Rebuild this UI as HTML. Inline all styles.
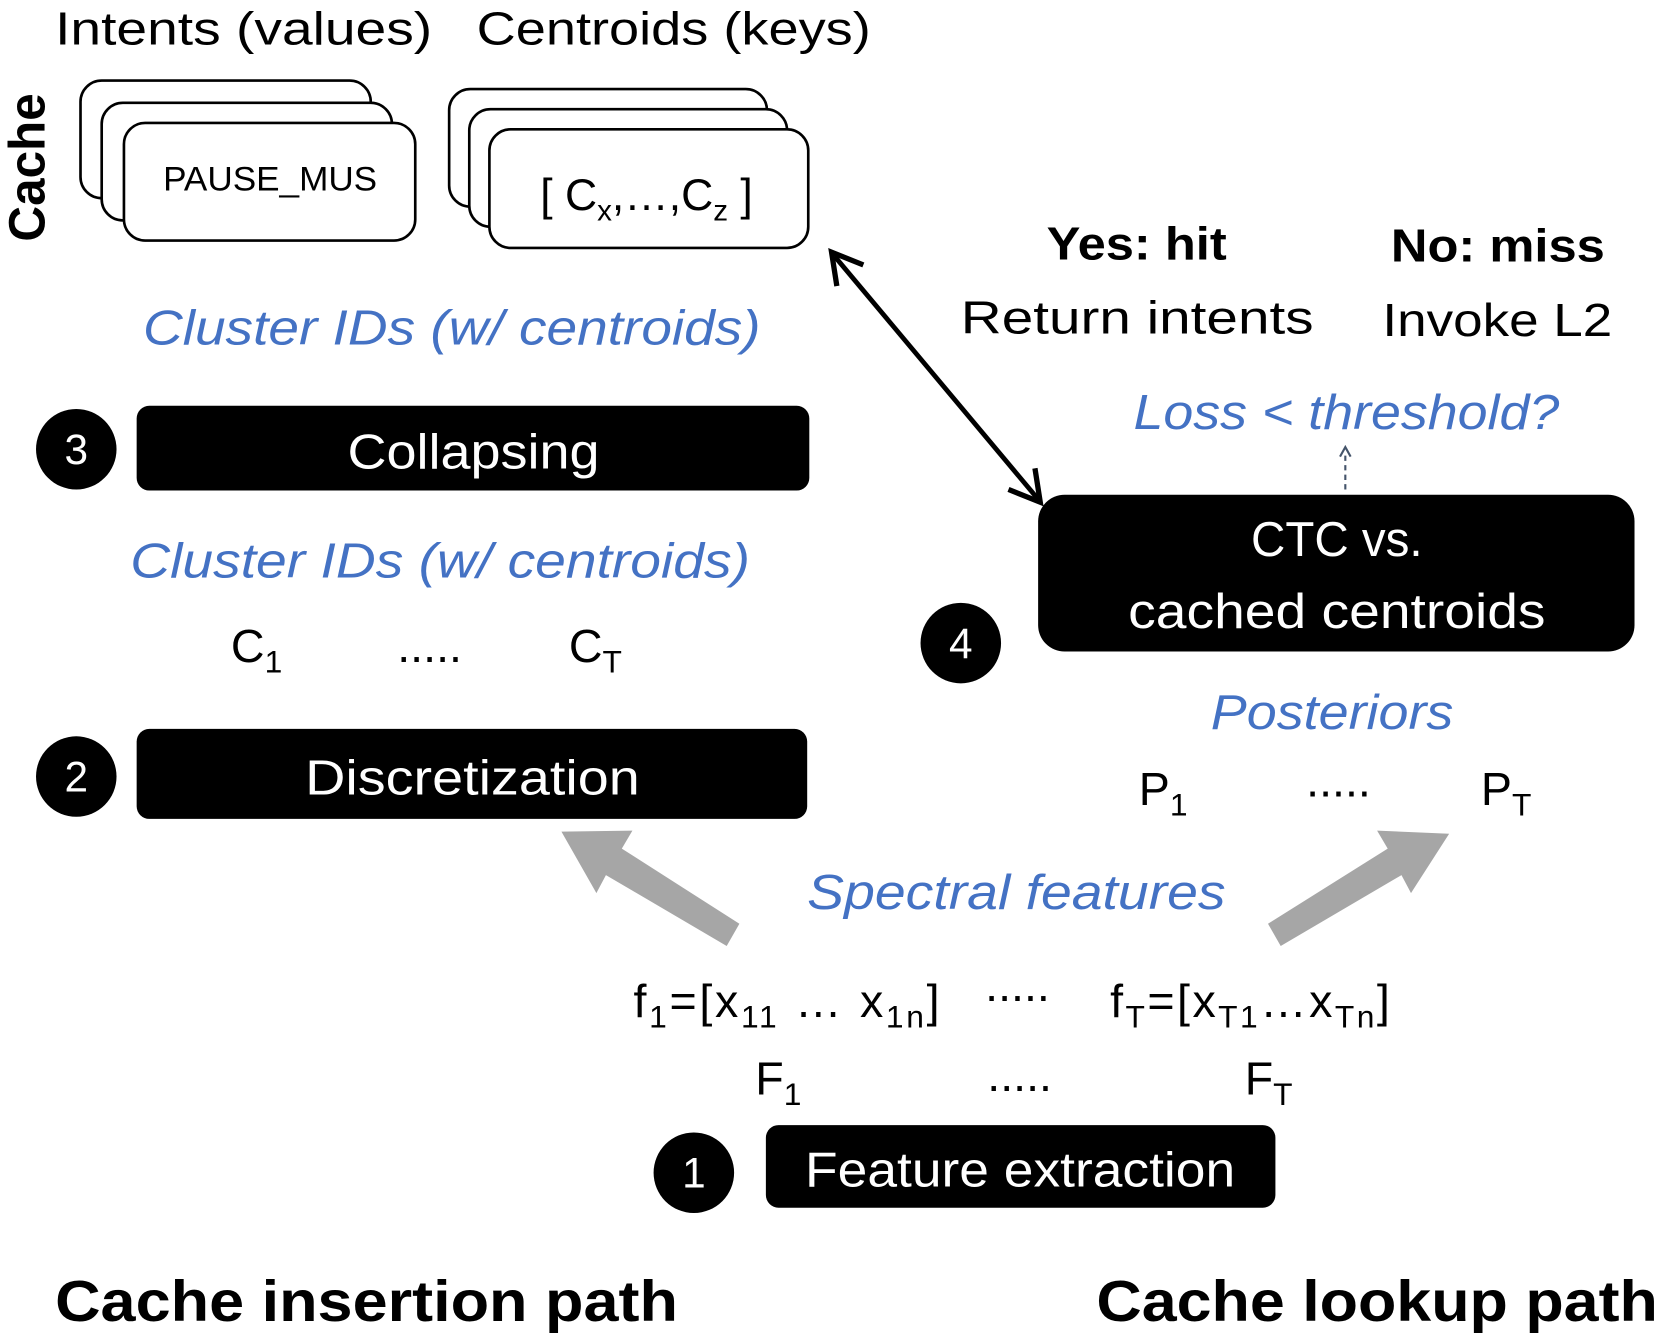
<!DOCTYPE html>
<html><head><meta charset="utf-8"><style>html,body{margin:0;padding:0;background:#fff}svg{display:block}text{font-family:"Liberation Sans",sans-serif}</style></head>
<body>
<svg width="1661" height="1337" viewBox="0 0 1568 1262" xmlns="http://www.w3.org/2000/svg">
<g font-size="44" fill="#000">
<text x="52" y="42" textLength="356" lengthAdjust="spacingAndGlyphs">Intents (values)</text>
<text x="450" y="42" textLength="372" lengthAdjust="spacingAndGlyphs">Centroids (keys)</text>
</g>
<text transform="translate(42,228) rotate(-90)" font-size="48" font-weight="bold" textLength="140" lengthAdjust="spacingAndGlyphs">Cache</text>
<g fill="#fff" stroke="#000" stroke-width="2.5">
<rect x="76" y="76" width="274" height="111" rx="20"/>
<rect x="96" y="97" width="274" height="111" rx="20"/>
<rect x="117" y="116" width="275" height="111" rx="20"/>
<rect x="424" y="84" width="300" height="111" rx="20"/>
<rect x="443" y="103" width="300" height="111" rx="20"/>
<rect x="462" y="122" width="301" height="112" rx="20"/>
</g>
<text x="255" y="180" font-size="32" text-anchor="middle" textLength="202" lengthAdjust="spacingAndGlyphs">PAUSE_MUS</text>
<text x="510" y="198" font-size="42">[ C<tspan font-size="28" dy="10">x</tspan><tspan dy="-10">,…,C</tspan><tspan font-size="28" dy="10">z</tspan><tspan dy="-10"> ]</tspan></text>

<g fill="#4472C4" font-style="italic" font-size="46">
<text x="135" y="325" textLength="583" lengthAdjust="spacingAndGlyphs">Cluster IDs (w/ centroids)</text>
<text x="123" y="545" textLength="585" lengthAdjust="spacingAndGlyphs">Cluster IDs (w/ centroids)</text>
<text x="1070" y="405" textLength="402" lengthAdjust="spacingAndGlyphs">Loss &lt; threshold?</text>
<text x="1143" y="688" textLength="229" lengthAdjust="spacingAndGlyphs">Posteriors</text>
<text x="762" y="858" textLength="395" lengthAdjust="spacingAndGlyphs">Spectral features</text>
</g>

<g fill="#000">
<circle cx="72" cy="424" r="38"/><circle cx="72" cy="733" r="38"/><circle cx="655" cy="1107" r="38"/><circle cx="907" cy="607" r="38"/>
<rect x="129" y="383" width="635" height="80" rx="12"/>
<rect x="129" y="688" width="633" height="85" rx="12"/>
<rect x="723" y="1062" width="481" height="78" rx="12"/>
<rect x="980" y="467" width="563" height="148" rx="25"/>
</g>
<g fill="#fff" font-size="40" text-anchor="middle">
<text x="72" y="438">3</text><text x="72" y="747">2</text><text x="655" y="1121">1</text><text x="907" y="621">4</text>
</g>
<g fill="#fff" font-size="46" text-anchor="middle">
<text x="447" y="442" textLength="238" lengthAdjust="spacingAndGlyphs">Collapsing</text>
<text x="446" y="750" textLength="316" lengthAdjust="spacingAndGlyphs">Discretization</text>
<text x="963" y="1120" textLength="406" lengthAdjust="spacingAndGlyphs">Feature extraction</text>
<text x="1262" y="525" textLength="162" lengthAdjust="spacingAndGlyphs">CTC vs.</text>
<text x="1262" y="593" textLength="394" lengthAdjust="spacingAndGlyphs">cached centroids</text>
</g>

<g font-size="44" fill="#000">
<text x="218" y="625">C<tspan font-size="30" dy="10">1</tspan></text>
<text x="375" y="625">.....</text>
<text x="537" y="625">C<tspan font-size="30" dy="10">T</tspan></text>
<text x="1075" y="760">P<tspan font-size="30" dy="10">1</tspan></text>
<text x="1233" y="752">.....</text>
<text x="1398" y="760">P<tspan font-size="30" dy="10">T</tspan></text>
<text x="598" y="960" textLength="289" lengthAdjust="spacing">f<tspan font-size="30" dy="10">1</tspan><tspan dy="-10">=[x</tspan><tspan font-size="30" dy="10">11</tspan><tspan dy="-10"> … x</tspan><tspan font-size="30" dy="10">1n</tspan><tspan dy="-10">]</tspan></text>
<text x="930" y="945">.....</text>
<text x="1048" y="960" textLength="264" lengthAdjust="spacing">f<tspan font-size="30" dy="10">T</tspan><tspan dy="-10">=[x</tspan><tspan font-size="30" dy="10">T1</tspan><tspan dy="-10">…x</tspan><tspan font-size="30" dy="10">Tn</tspan><tspan dy="-10">]</tspan></text>
<text x="713" y="1033">F<tspan font-size="30" dy="10">1</tspan></text>
<text x="932" y="1030">.....</text>
<text x="1175" y="1033">F<tspan font-size="30" dy="10">T</tspan></text>
<text x="1073" y="245" font-weight="bold" text-anchor="middle" textLength="170" lengthAdjust="spacingAndGlyphs">Yes: hit</text>
<text x="907" y="315" textLength="333" lengthAdjust="spacingAndGlyphs">Return intents</text>
<text x="1414" y="247" font-weight="bold" text-anchor="middle" textLength="202" lengthAdjust="spacingAndGlyphs">No: miss</text>
<text x="1305" y="317" textLength="217" lengthAdjust="spacingAndGlyphs">Invoke L2</text>
</g>
<g font-size="54" font-weight="bold">
<text x="52" y="1247" textLength="588" lengthAdjust="spacingAndGlyphs">Cache insertion path</text>
<text x="1035" y="1247" textLength="530" lengthAdjust="spacingAndGlyphs">Cache lookup path</text>
</g>

<g fill="#A6A6A6">
<polygon points="698,872 686,893 572,826 563,843 530,785 597,784 587,801"/>
<polygon points="1197,872 1209,893 1323,826 1332,843 1368,787 1300,784 1310,801"/>
</g>
<line x1="788" y1="242" x2="979" y2="470" stroke="#000" stroke-width="4.5"/>
<polyline points="790,270 785,238 815,250" fill="none" stroke="#000" stroke-width="5"/>
<polyline points="977,442 982,474 952,462" fill="none" stroke="#000" stroke-width="5"/>
<line x1="1270" y1="462" x2="1270" y2="426" stroke="#44546A" stroke-width="2" stroke-dasharray="5,4"/>
<polyline points="1265,431 1270,422 1275,431" fill="none" stroke="#44546A" stroke-width="2"/>
</svg>
</body></html>
